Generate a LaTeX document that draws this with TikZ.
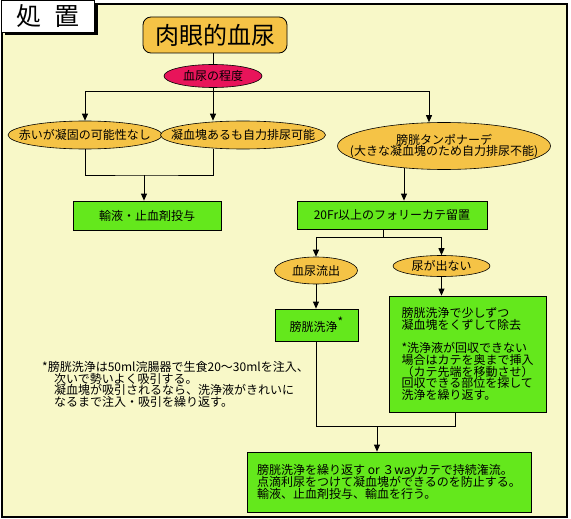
\documentclass[tikz,border=0pt]{standalone}
\usepackage{fontspec}
\setmainfont{Noto Sans CJK JP}
\usetikzlibrary{positioning,arrows.meta,shapes.geometric,shadows}

\definecolor{paper}{RGB}{248,248,200}
\definecolor{amber}{RGB}{245,195,70}
\definecolor{leaf}{RGB}{100,232,28}
\definecolor{rose}{RGB}{232,20,90}

\begin{document}
\lineskiplimit=-6pt\relax
\begin{tikzpicture}[
  x=1pt, y=-1pt,
  font=\fontsize{12}{11.7}\selectfont,
  box/.style={draw=black, fill=leaf, align=left, inner sep=0pt, line width=0.8pt},
  oval/.style={ellipse, draw=black, fill=amber, inner xsep=-25pt, inner ysep=0pt, line width=0.6pt, align=center},
  arrow/.style={-{Triangle[length=7pt, width=6pt]}, line width=0.8pt},
  link/.style={line width=0.8pt}
]
\useasboundingbox (0,0) rectangle (571,519);
\draw[fill=paper, line width=1.6pt] (2,4) rectangle (567,517);

\node[draw, fill=white, line width=0.8pt, minimum width=93pt, minimum height=32pt,
  general shadow={fill=black, shadow xshift=3pt, shadow yshift=-3pt},
  font=\fontsize{25}{25}\selectfont] (title) at (48,16.5) {処\hspace{0.5em}置};

\node[draw, fill=amber, rounded corners=8pt, line width=0.8pt, minimum width=144pt, minimum height=36pt,
  font=\fontsize{24}{24}\selectfont] (hematuria) at (215,35) {肉眼的血尿};
\node[oval, fill=rose, minimum width=98pt, minimum height=23pt] (degree) at (213,76) {血尿の程度};

\node[oval, minimum width=154pt, minimum height=28pt] (redonly) at (85,135) {赤いが凝固の可能性なし};
\node[oval, minimum width=165pt, minimum height=28pt] (clotok) at (243,135) {凝血塊あるも自力排尿可能};
\node[oval, minimum width=213pt, minimum height=47pt] (tampon) at (444,146) {膀胱タンポナーデ\\(大きな凝血塊のため自力排尿不能)};

\node[box, minimum width=148pt, minimum height=29pt] (infuse) at (147,215.5) {輸液・止血剤投与};
\node[box, minimum width=190pt, minimum height=28pt] (foley) at (392,215) {20Fr以上のフォリーカテ留置};

\node[oval, minimum width=83pt, minimum height=27pt] (flowing) at (316,270.5) {血尿流出};
\node[oval, minimum width=97pt, minimum height=21pt] (noflow) at (441.5,266) {尿が出ない};

\node[box, minimum width=83pt, minimum height=32pt] (irrig) at (316.5,325) {膀胱洗浄\raisebox{5pt}{*}};
\node[box, minimum width=157pt, minimum height=116pt] (remove) at (467.5,354) {膀胱洗浄で少しずつ\\凝血塊をくずして除去\\[11.7pt]*洗浄液が回収できない\\場合はカテを奥まで挿入\\（カテ先端を移動させ）\\回収できる部位を探して\\洗浄を繰り返す。};

\node[box, minimum width=284pt, minimum height=60pt] (final) at (389,482) {膀胱洗浄を繰り返す or ３wayカテで持続潅流。\\点滴利尿をつけて凝血塊ができるのを防止する。\\輸液、止血剤投与、輸血を行う。};

\node[anchor=north west, align=left, inner sep=0pt] (note) at (42,361) {*膀胱洗浄は50ml浣腸器で生食20〜30mlを注入、\\\hspace*{12pt}次いで勢いよく吸引する。\\\hspace*{12pt}凝血塊が吸引されるなら、洗浄液がきれいに\\\hspace*{12pt}なるまで注入・吸引を繰り返す。};

\coordinate (fork) at (213,91);
\coordinate (merge) at (144,175);
\coordinate (fork2) at (383,237);
\coordinate (merge2) at (377,426);
\coordinate (bend) at (455,426);

\draw[link] (degree.north |- hematuria.south) -- (degree.north);
\draw[link] (degree.south) -- (fork);
\draw[arrow] (fork) -| (redonly.north);
\draw[arrow] (fork) -- (fork |- clotok.north);
\draw[arrow] (fork) -| ([xshift=-15pt]tampon.north);
\draw[link] (redonly.south) |- (merge) -| (fork |- clotok.south);
\draw[arrow] (merge) -- (merge |- infuse.north);
\draw[arrow] ([xshift=-40pt,yshift=1.5pt]tampon.south) -- ([xshift=-40pt]tampon.south |- foley.north);
\draw[link] (fork2 |- foley.south) -- (fork2);
\draw[arrow] (fork2) -| (flowing.north);
\draw[arrow] (fork2) -| (noflow.north);
\draw[arrow] (flowing.south) -- (flowing.south |- irrig.north);
\draw[arrow] (noflow.south) -- (noflow.south |- remove.north);
\draw[link] (irrig.south) |- (bend) -- (bend |- remove.south);
\draw[arrow] (merge2) -- (merge2 |- final.north);
\end{tikzpicture}
\end{document}
